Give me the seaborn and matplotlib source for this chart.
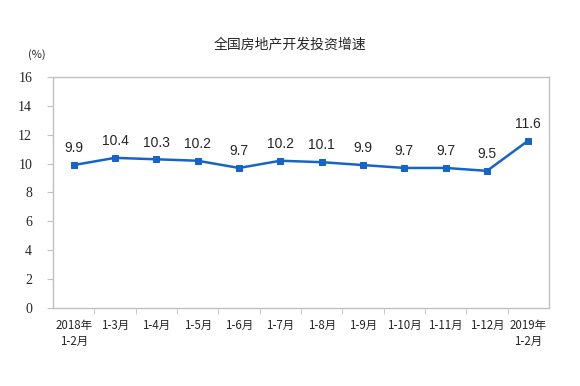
import numpy as np
import pandas as pd
import matplotlib
matplotlib.use('Agg')
import matplotlib.pyplot as plt
import seaborn as sns

months = ['2018年\n1-2月', '1-3月', '1-4月', '1-5月', '1-6月', '1-7月', '1-8月',
          '1-9月', '1-10月', '1-11月', '1-12月', '2019年\n1-2月']
growth = [9.9, 10.4, 10.3, 10.2, 9.7, 10.2, 10.1, 9.9, 9.7, 9.7, 9.5, 11.6]
y_ticks = [0, 2, 4, 6, 8, 10, 12, 14, 16]

sns.set_style('white')
plt.rcParams['font.family'] = ['Noto Sans CJK SC', 'DejaVu Sans']

df = pd.DataFrame({'pos': np.arange(len(months)), 'growth': growth})

fig = plt.figure(figsize=(5.8, 3.86), dpi=100)
ax = fig.add_axes([0.0914, 0.2021, 0.8552, 0.5984])

line_color = '#1565C8'
sns.lineplot(data=df, x='pos', y='growth', ax=ax, color=line_color, linewidth=1.8,
             marker='s', markersize=5, markeredgecolor=line_color, markerfacecolor=line_color)

for x, v in zip(df['pos'], df['growth']):
    ax.annotate(f'{v}', (x, v), xytext=(0, 7), textcoords='offset points',
                ha='center', va='bottom', fontsize=10, family=['Liberation Sans'])

ax.set_xlim(-0.5, len(months) - 0.5)
ax.set_ylim(0, 16)
ax.set_xticks(df['pos'])
ax.set_xticklabels(months, fontsize=8.3, linespacing=1.3)
ax.set_xticks(np.arange(0.5, len(months) - 1, 1), minor=True)
ax.tick_params(axis='x', which='major', length=0, pad=8)
ax.tick_params(axis='x', which='minor', length=4, color='#c0c0c0', direction='out', bottom=True)
ax.set_yticks(y_ticks)
for lbl in ax.set_yticklabels([str(t) for t in y_ticks], fontsize=10):
    lbl.set_fontfamily('Liberation Serif')
ax.tick_params(axis='y', length=4, color='#c0c0c0', direction='out', left=True, pad=11)
ax.set_xlabel('')
ax.set_ylabel('')
for s in ax.spines.values():
    s.set_color('#c0c0c0')
    s.set_linewidth(1)

fig.text(0.5, 0.885, '全国房地产开发投资增速', ha='center', va='center', fontsize=10)
fig.text(0.063, 0.858, '(%)', ha='center', va='center', fontsize=8)

fig.savefig('out.png', dpi=100)
